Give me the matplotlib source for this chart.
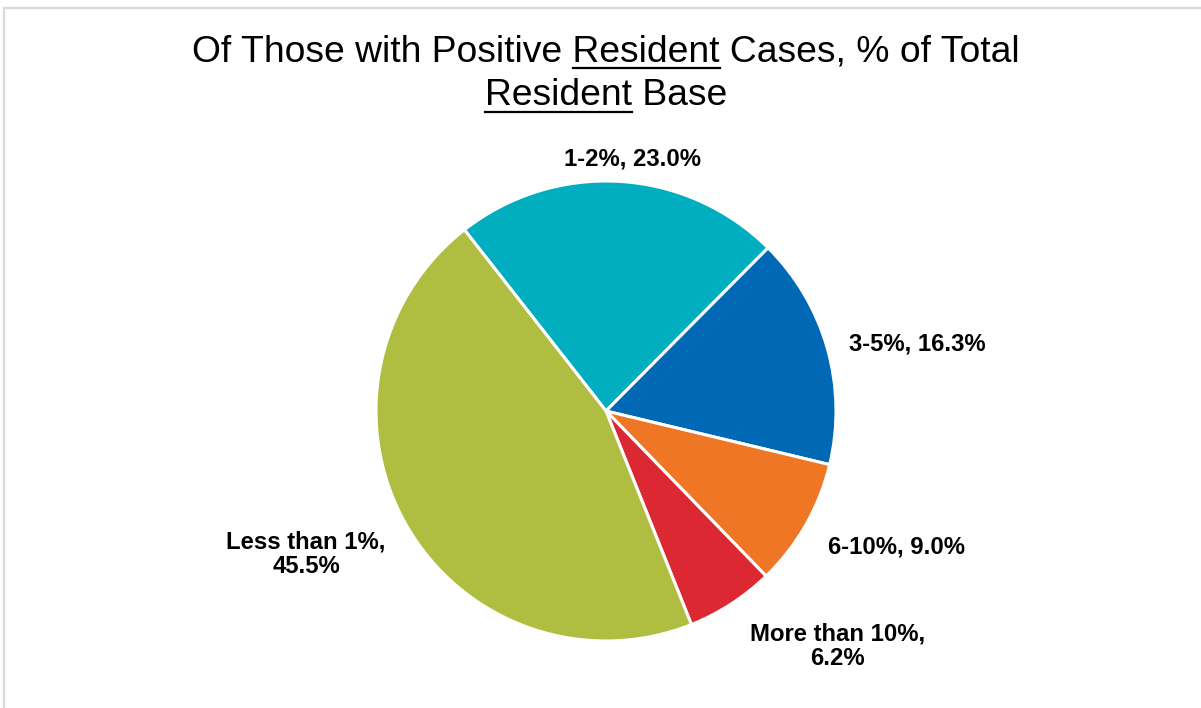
# --- Pie chart: share of resident base among facilities with positive resident cases ---
import numpy as np
import matplotlib.pyplot as plt
from matplotlib.lines import Line2D

plt.rcParams['font.family'] = ['Liberation Sans', 'DejaVu Sans']

# --- data ---
categories = ['1-2%', '3-5%', '6-10%', 'More than 10%', 'Less than 1%']
shares = [23.0, 16.3, 9.0, 6.2, 45.5]
label_sep = [', ', ', ', ', ', ',\n', ',\n']

# --- style ---
slice_colors = ['#00AEBF', '#0068B5', '#EE7624', '#DC2832', '#AFBE41']
# label centres, in units of the pie radius
label_xy = [(0.117, 1.096), (1.352, 0.291), (1.261, -0.591), (1.005, -1.022), (-1.304, -0.622)]

W, H = 1201, 708
cx, cy, R = 606, 411, 230   # pie centre / radius in pixels (from top-left)

fig = plt.figure(figsize=(W / 100, H / 100), dpi=100)
ax = fig.add_axes([0, 0, 1, 1])
wedges, _ = ax.pie(shares, colors=slice_colors, startangle=128, counterclock=False,
                   wedgeprops=dict(edgecolor='white', linewidth=2.2))
ax.set_xlim(-cx / R, (W - cx) / R)
ax.set_ylim(-(H - cy) / R, cy / R)
ax.set_aspect('equal')
ax.axis('off')

for cat, val, sep, (lx, ly) in zip(categories, shares, label_sep, label_xy):
    ax.text(lx, ly, f'{cat}{sep}{val:.1f}%', ha='center', va='center',
            multialignment='center', fontsize=17.2, fontweight='bold',
            color='black', linespacing=1.05)

# --- title with underlined words ---
title_size = 26.8
line1 = 'Of Those with Positive Resident Cases, % of Total'
line2 = 'Resident Base'
word = 'Resident'
base1, base2 = 61, 105  # baselines, px from top

t1 = fig.text(cx / W, 1 - base1 / H, line1, ha='center', va='baseline', fontsize=title_size)
t2 = fig.text(cx / W, 1 - base2 / H, line2, ha='center', va='baseline', fontsize=title_size)

fig.canvas.draw()
rend = fig.canvas.get_renderer()


def width_of(s):
    t = fig.text(0, 0, s, fontsize=title_size)
    w = t.get_window_extent(renderer=rend).width
    t.remove()
    return w


w_word = width_of(word)
ext1 = t1.get_window_extent(renderer=rend)
w_pre = width_of('Of Those with Positive Resident')
u1_end = ext1.x0 + w_pre
u1_start = u1_end - w_word
ext2 = t2.get_window_extent(renderer=rend)
u2_start = ext2.x0
u2_end = ext2.x0 + w_word

for (xs, xe, yb) in [(u1_start, u1_end, base1 + 7), (u2_start, u2_end, base2 + 7)]:
    fig.add_artist(Line2D([xs / W, xe / W], [1 - yb / H, 1 - yb / H],
                          transform=fig.transFigure, color='black', linewidth=1.6))

# --- chart area border (light grey, top and left visible) ---
fig.add_artist(Line2D([3.5 / W, 1.0], [1 - 8 / H, 1 - 8 / H], transform=fig.transFigure,
                      color='#D9D9D9', linewidth=1.6))
fig.add_artist(Line2D([3.5 / W, 3.5 / W], [0, 1 - 8 / H], transform=fig.transFigure,
                      color='#D9D9D9', linewidth=1.6))

fig.savefig('out.png', dpi=100)
